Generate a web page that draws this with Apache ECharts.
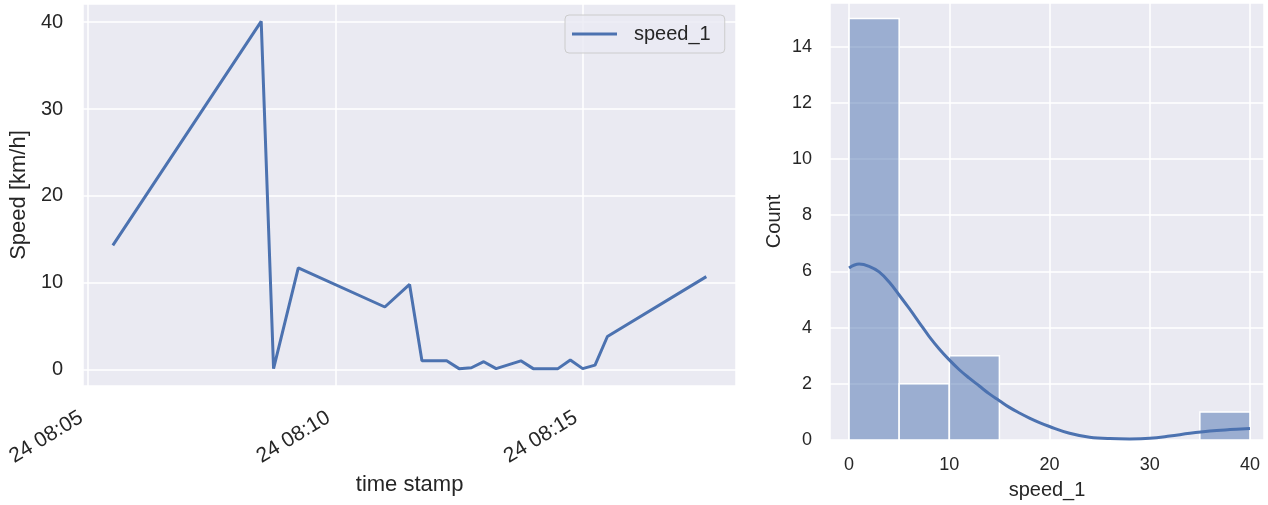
<!DOCTYPE html>
<html><head><meta charset="utf-8">
<script src="https://cdn.jsdelivr.net/npm/echarts@6/dist/echarts.min.js"></script>
<style>html,body{margin:0;padding:0;background:#fff}#c{width:1268px;height:505px}</style>
</head><body><div id="c"></div>
<script>
// ---- data ----
const timeStamps = ['08:05:30','08:08:30','08:08:45','08:09:15','08:11:00','08:11:30','08:11:45','08:12:15',
  '08:12:30','08:12:45','08:13:00','08:13:15','08:13:45','08:14:00','08:14:15','08:14:30','08:14:45',
  '08:15:00','08:15:15','08:15:30','08:17:30'];
const speed1 = [14.3, 40.1, 0.1, 11.7, 7.2, 9.8, 1.0, 1.0, 0.1, 0.2, 0.9, 0.1, 1.0, 0.1, 0.1, 0.1, 1.1, 0.1, 0.5, 3.8, 10.7];
const binEdges = [0, 5, 10, 15, 20, 25, 30, 35, 40];
const binCounts = [15, 2, 3, 0, 0, 0, 0, 1];
const kdeX = [0, 1, 2, 3, 4, 5, 6, 7, 8, 9, 10, 11, 12, 13, 14, 15, 16, 17, 18, 19, 20, 22, 24, 26, 28, 30, 32, 34, 36, 38, 40];
const kdeY = [6.12, 6.26, 6.18, 5.98, 5.62, 5.16, 4.68, 4.18, 3.68, 3.24, 2.85, 2.5, 2.2, 1.92, 1.64, 1.40, 1.16, 0.96, 0.78, 0.62, 0.48, 0.24, 0.10, 0.05, 0.04, 0.06, 0.14, 0.24, 0.32, 0.37, 0.41];
const dayOfMonth = 24;
const xRangeLeft = ['08:04:54', '08:18:06'];

// ---- helpers ----
function toMs(t) { const p = t.split(':').map(Number); return Date.UTC(2023, 0, dayOfMonth, p[0], p[1], p[2]); }
function pad(n) { return (n < 10 ? '0' : '') + n; }

const TXT = '#262626';
const BG = '#EAEAF2';
const BLUE = '#4C72B0';
const FONT = 'Liberation Sans, Arial, sans-serif';

const chart = echarts.init(document.getElementById('c'), null, { renderer: 'canvas' });
chart.setOption({
  animation: false,
  textStyle: { fontFamily: FONT, color: TXT },
  grid: [
    { left: 83, top: 4, width: 653, height: 382, show: true, backgroundColor: BG, borderWidth: 0 },
    { left: 830, top: 3, width: 434, height: 438, show: true, backgroundColor: BG, borderWidth: 0 }
  ],
  legend: {
    data: [{ name: 'speed_1', icon: 'rect' }], left: 565, top: 15,
    backgroundColor: 'rgba(234,234,242,0.8)', borderColor: '#CCCCCC', borderWidth: 1, borderRadius: 4,
    padding: [9, 14, 9, 7], itemWidth: 45, itemHeight: 3,
    itemStyle: { color: BLUE },
    textStyle: { fontSize: 20, color: TXT, fontFamily: FONT, padding: [0, 0, 0, 12] }
  },
  xAxis: [
    {
      type: 'value', gridIndex: 0, min: toMs(xRangeLeft[0]), max: toMs(xRangeLeft[1]), splitNumber: 3,
      axisLine: { show: false }, axisTick: { show: false },
      splitLine: { show: true, lineStyle: { color: '#fff', width: 1.5 } },
      axisLabel: {
        rotate: 31, fontSize: 21, color: TXT, fontFamily: FONT, margin: 26, padding: [0, 8, 0, 0],
        showMinLabel: false, showMaxLabel: false,
        formatter: function (v) { const d = new Date(v); return d.getUTCDate() + ' ' + pad(d.getUTCHours()) + ':' + pad(d.getUTCMinutes()); }
      },
      name: 'time stamp', nameLocation: 'middle', nameGap: 85,
      nameTextStyle: { fontSize: 22, color: TXT, fontFamily: FONT }
    },
    {
      type: 'value', gridIndex: 1, min: -1.9, max: 41.4, splitNumber: 4,
      axisLine: { show: false }, axisTick: { show: false },
      splitLine: { show: true, lineStyle: { color: '#fff', width: 1.5 } },
      axisLabel: { fontSize: 18, color: TXT, fontFamily: FONT, margin: 16, showMinLabel: false, showMaxLabel: false },
      name: 'speed_1', nameLocation: 'middle', nameGap: 40,
      nameTextStyle: { fontSize: 20, color: TXT, fontFamily: FONT }
    }
  ],
  yAxis: [
    {
      type: 'value', gridIndex: 0, min: -1.9, max: 42.1, splitNumber: 4,
      axisLine: { show: false }, axisTick: { show: false },
      splitLine: { show: true, lineStyle: { color: '#fff', width: 1.5 } },
      axisLabel: { fontSize: 20, color: TXT, fontFamily: FONT, margin: 20, showMinLabel: false, showMaxLabel: false },
      name: 'Speed [km/h]', nameLocation: 'middle', nameGap: 52,
      nameTextStyle: { fontSize: 22, color: TXT, fontFamily: FONT }
    },
    {
      type: 'value', gridIndex: 1, min: 0, max: 15.55, interval: 2,
      axisLine: { show: false }, axisTick: { show: false },
      splitLine: { show: true, lineStyle: { color: '#fff', width: 1.5 } },
      axisLabel: { fontSize: 18, color: TXT, fontFamily: FONT, margin: 18, showMaxLabel: false },
      name: 'Count', nameLocation: 'middle', nameGap: 46,
      nameTextStyle: { fontSize: 20, color: TXT, fontFamily: FONT }
    }
  ],
  series: [
    {
      name: 'speed_1', type: 'line', xAxisIndex: 0, yAxisIndex: 0,
      data: timeStamps.map((t, i) => [toMs(t), speed1[i]]),
      symbol: 'none', lineStyle: { color: BLUE, width: 3 }, itemStyle: { color: BLUE }
    },
    {
      type: 'custom', xAxisIndex: 1, yAxisIndex: 1,
      data: binCounts.map((c, i) => [binEdges[i], binEdges[i + 1], c]),
      encode: { x: [0, 1], y: 2 },
      renderItem: function (params, api) {
        if (api.value(2) <= 0) return null;
        const p0 = api.coord([api.value(0), 0]);
        const p1 = api.coord([api.value(1), api.value(2)]);
        return {
          type: 'rect',
          shape: { x: p0[0], y: p1[1], width: p1[0] - p0[0], height: p0[1] - p1[1] },
          style: { fill: 'rgba(76,114,176,0.5)', stroke: '#ffffff', lineWidth: 1.5 }
        };
      }
    },
    {
      type: 'line', xAxisIndex: 1, yAxisIndex: 1, z: 5,
      data: kdeX.map((x, i) => [x, kdeY[i]]),
      smooth: 0.4, symbol: 'none', lineStyle: { color: BLUE, width: 3 }
    }
  ]
});
</script></body></html>
